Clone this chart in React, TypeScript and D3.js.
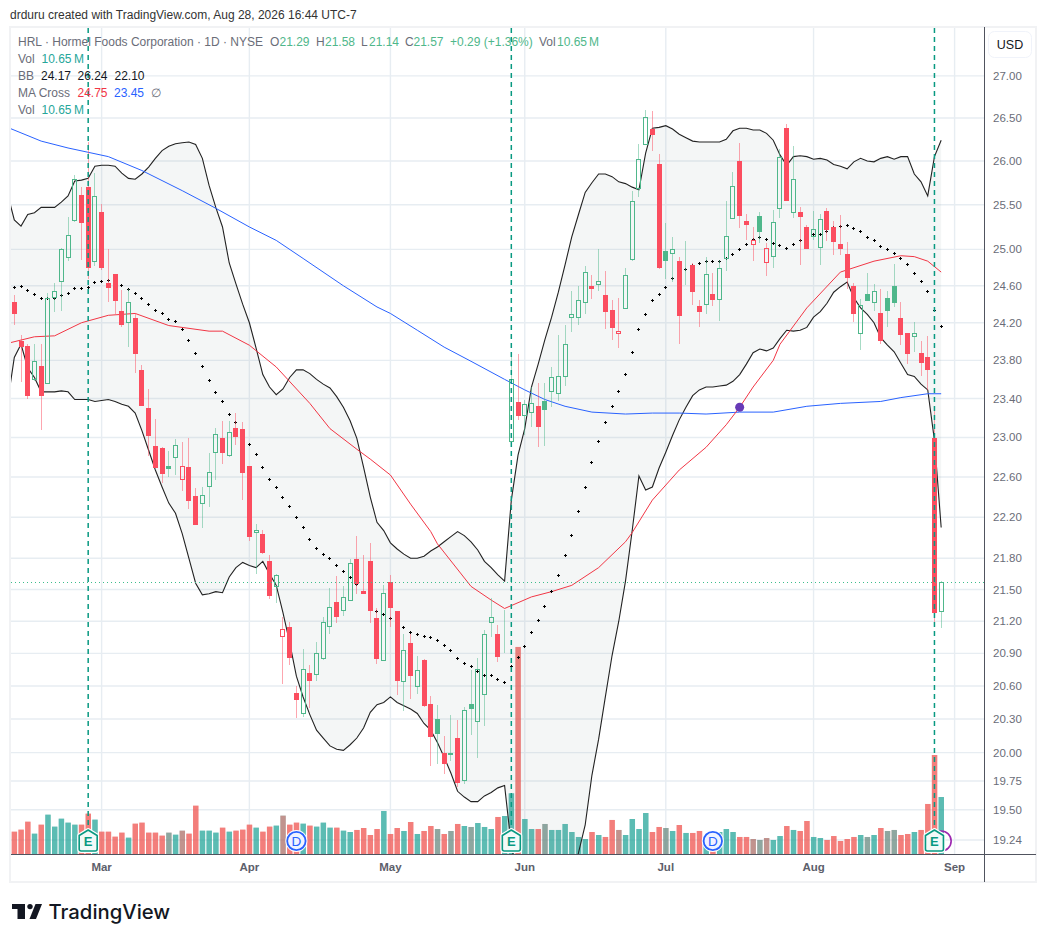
import React from 'react';
import * as d3 from 'd3';

// daily OHLCV, one row per ten sessions, session 0 is the first visible candle
const opens = [
  24.42, 24.01, 23.95, 23.59, 23.74, 23.55, 24.47, 24.64, 24.90, 25.32,
  25.61, 25.70, 24.86, 25.42, 24.63, 24.73, 24.33, 24.20, 24.25, 23.70,
  23.30, 22.91, 22.89, 22.71, 22.79, 22.57, 22.70, 22.41, 22.33, 22.50,
  22.84, 22.99, 22.81, 23.10, 23.09, 22.71, 22.05, 22.04, 21.77, 21.52,
  21.05, 21.15, 20.54, 20.35, 20.72, 20.70, 20.85, 21.15, 21.38, 21.30,
  21.39, 21.79, 21.49, 21.77, 21.23, 20.83, 21.57, 21.30, 20.64, 21.00,
  20.59, 20.84, 20.44, 20.30, 20.00, 20.00, 20.13, 19.75, 20.44, 20.27,
  20.52, 21.18, 21.08, 20.96, 22.95, 23.36, 23.22, 23.25, 23.32, 23.37,
  23.47, 23.45, 23.63, 24.25, 24.25, 24.41, 24.60, 24.61, 24.50, 24.34,
  24.08, 24.35, 24.88, 25.68, 26.19, 26.37, 25.97, 24.98, 24.95, 24.87,
  24.70, 24.83, 24.38, 24.39, 24.51, 24.44, 24.89, 25.34, 26.00, 25.32,
  25.05, 25.37, 24.85, 24.92, 25.45, 26.38, 25.41, 25.42, 25.25, 25.14,
  25.02, 25.43, 25.25, 25.06, 24.95, 24.60, 24.08, 24.51, 24.41, 24.31,
  24.47, 24.60, 24.25, 24.09, 24.05, 23.88, 23.84, 22.99, 21.29,
];
const highs = [
  24.50, 24.07, 23.97, 23.97, 23.97, 24.52, 24.63, 25.02, 25.36, 25.84,
  25.70, 26.22, 25.86, 25.51, 25.00, 24.73, 24.55, 24.57, 24.31, 23.75,
  23.50, 23.19, 22.90, 22.86, 22.98, 22.95, 22.99, 22.49, 22.50, 22.84,
  23.10, 23.17, 23.17, 23.25, 23.16, 22.71, 22.13, 22.08, 21.83, 21.65,
  21.24, 21.19, 20.60, 20.94, 20.79, 21.01, 21.24, 21.51, 21.63, 21.53,
  21.79, 22.02, 21.83, 21.95, 21.32, 21.54, 21.64, 21.30, 21.08, 21.08,
  20.88, 20.85, 20.51, 20.43, 20.15, 20.34, 20.29, 20.41, 20.75, 20.86,
  21.12, 21.42, 21.16, 21.31, 23.89, 23.87, 23.38, 23.52, 23.56, 23.56,
  23.73, 24.07, 24.18, 24.54, 24.60, 24.82, 24.72, 25.00, 24.76, 24.45,
  24.47, 24.79, 25.66, 26.20, 26.59, 26.58, 26.08, 25.29, 25.14, 24.92,
  25.09, 24.85, 24.44, 24.92, 24.74, 24.88, 25.54, 25.87, 26.21, 25.39,
  25.25, 25.42, 25.07, 25.44, 26.14, 26.43, 26.17, 25.47, 25.27, 25.43,
  25.39, 25.46, 25.32, 25.38, 25.08, 24.63, 24.46, 24.74, 24.62, 24.56,
  24.54, 24.84, 24.42, 24.09, 24.21, 24.00, 24.06, 23.30, 21.58,
];
const lows = [
  24.18, 23.57, 23.40, 23.58, 23.08, 23.55, 24.32, 24.33, 24.87, 25.31,
  24.88, 24.67, 24.82, 24.77, 24.42, 24.29, 24.15, 23.94, 23.67, 23.32,
  22.81, 22.69, 22.54, 22.60, 22.62, 22.46, 22.28, 22.12, 22.09, 22.30,
  22.57, 22.73, 22.80, 22.92, 22.37, 21.97, 21.65, 21.84, 21.41, 21.37,
  20.62, 20.79, 20.31, 20.32, 20.40, 20.65, 20.84, 21.08, 21.18, 21.25,
  21.39, 21.46, 21.46, 21.18, 20.80, 20.83, 21.15, 20.52, 20.37, 20.48,
  20.53, 20.41, 19.88, 19.90, 19.81, 19.93, 19.70, 19.72, 20.16, 19.95,
  20.24, 21.05, 20.82, 20.90, 22.95, 23.18, 23.02, 23.11, 22.90, 22.91,
  23.31, 23.37, 23.53, 24.10, 24.18, 24.29, 24.46, 24.54, 24.13, 24.02,
  23.93, 24.35, 24.87, 25.59, 26.19, 26.11, 24.78, 24.67, 24.64, 23.97,
  24.61, 24.39, 24.15, 24.29, 24.38, 24.22, 24.76, 25.34, 25.24, 25.11,
  24.87, 25.07, 24.71, 24.79, 25.35, 25.54, 25.35, 24.83, 25.00, 25.11,
  24.83, 25.09, 24.94, 24.94, 24.57, 24.21, 23.91, 24.43, 24.33, 23.97,
  24.15, 24.37, 23.96, 23.76, 23.89, 23.64, 23.49, 21.19, 21.14,
];
const closes = [
  24.29, 23.94, 23.43, 23.79, 23.43, 24.47, 24.54, 25.00, 25.16, 25.79,
  25.30, 24.80, 25.60, 24.80, 24.58, 24.43, 24.18, 24.42, 23.87, 23.32,
  23.01, 22.69, 22.63, 22.68, 22.92, 22.71, 22.36, 22.12, 22.42, 22.65,
  23.04, 22.84, 23.06, 23.00, 22.64, 22.01, 22.08, 21.85, 21.44, 21.64,
  21.13, 20.86, 20.47, 20.76, 20.65, 20.90, 21.19, 21.33, 21.24, 21.43,
  21.75, 21.55, 21.46, 21.30, 20.85, 21.47, 21.32, 20.65, 20.93, 20.69,
  20.75, 20.42, 20.14, 20.17, 19.90, 19.98, 19.73, 20.38, 20.39, 20.76,
  21.08, 21.24, 20.87, 20.96, 23.60, 23.22, 23.34, 23.35, 23.11, 23.28,
  23.62, 23.64, 23.97, 24.29, 24.44, 24.75, 24.56, 24.65, 24.32, 24.14,
  24.11, 24.72, 25.54, 26.02, 26.51, 26.30, 24.80, 24.87, 25.00, 24.27,
  24.70, 24.53, 24.32, 24.73, 24.45, 24.80, 25.15, 25.71, 25.37, 25.27,
  25.11, 25.19, 25.02, 25.31, 26.05, 25.54, 25.79, 25.36, 25.00, 25.23,
  25.34, 25.22, 25.08, 25.01, 24.68, 24.29, 24.39, 24.43, 24.54, 24.01,
  24.33, 24.41, 24.07, 23.87, 24.09, 23.77, 23.70, 21.28, 21.57,
];
// millions of shares
const volumes = [
  4.17, 4.55, 6.04, 3.80, 5.48, 7.35, 5.11, 6.60, 5.86, 5.48,
  5.48, 7.54, 6.42, 4.17, 4.17, 3.24, 3.99, 3.05, 5.67, 5.86,
  3.99, 3.99, 3.43, 3.99, 3.61, 4.36, 3.80, 9.03, 4.36, 4.36,
  3.99, 4.92, 4.17, 4.36, 4.55, 5.48, 4.92, 4.17, 5.11, 5.30,
  7.17, 5.48, 5.86, 5.67, 5.30, 5.11, 5.86, 4.92, 4.92, 4.36,
  4.11, 4.49, 4.86, 3.55, 4.67, 8.04, 3.74, 4.86, 4.30, 5.98,
  3.74, 4.30, 5.23, 4.67, 3.74, 4.30, 5.61, 5.23, 5.05, 5.79,
  5.05, 4.67, 6.92, 7.10, 11.34, 38.7, 6.54, 4.67, 4.67, 5.61,
  4.49, 4.49, 5.61, 4.11, 3.18, 2.80, 4.11, 3.55, 3.18, 6.36,
  4.49, 3.55, 6.54, 4.67, 7.66, 4.11, 5.05, 4.86, 4.30, 5.42,
  3.93, 3.93, 4.30, 2.80, 3.00, 4.11, 4.67, 4.11, 3.18, 3.18,
  2.80, 2.62, 2.99, 2.62, 3.36, 5.23, 4.49, 4.30, 6.17, 3.18,
  2.99, 2.62, 3.36, 2.43, 2.80, 3.18, 3.55, 3.18, 3.55, 4.86,
  4.30, 4.49, 3.55, 3.74, 4.11, 4.49, 9.35, 18.5, 10.65,
];

// Bollinger basis, drawn as crosses
const bbBasis = [
  24.59, 24.60, 24.55, 24.51, 24.47, 24.47, 24.47, 24.50, 24.52, 24.58,
  24.58, 24.59, 24.64, 24.65, 24.66, 24.65, 24.61, 24.56, 24.52, 24.47,
  24.40, 24.34, 24.30, 24.24, 24.22, 24.13, 24.02, 23.88, 23.74, 23.59,
  23.47, 23.37, 23.24, 23.16, 23.06, 22.93, 22.83, 22.70, 22.58, 22.50,
  22.40, 22.31, 22.20, 22.10, 21.99, 21.90, 21.84, 21.80, 21.74, 21.68,
  21.62, 21.55, 21.48, 21.40, 21.30, 21.27, 21.23, 21.18, 21.15, 21.10,
  21.08, 21.06, 21.05, 21.02, 20.98, 20.93, 20.86, 20.81, 20.78, 20.74,
  20.70, 20.70, 20.66, 20.64, 20.78, 20.87, 20.97, 21.10, 21.21, 21.34,
  21.49, 21.64, 21.83, 22.03, 22.26, 22.50, 22.75, 22.96, 23.16, 23.32,
  23.48, 23.66, 23.89, 24.13, 24.29, 24.44, 24.51, 24.59, 24.68, 24.72,
  24.78, 24.83, 24.85, 24.87, 24.87, 24.87, 24.90, 24.95, 25.01, 25.06,
  25.12, 25.14, 25.12, 25.07, 25.05, 25.02, 25.06, 25.10, 25.14, 25.17,
  25.17, 25.21, 25.25, 25.26, 25.27, 25.24, 25.21, 25.14, 25.10, 25.04,
  25.00, 24.96, 24.90, 24.84, 24.74, 24.65, 24.54, 24.34, 24.17,
];
// the bands start one session earlier because the line enters from the left edge
const bbUpper = [
  25.62,
  25.33, 25.26, 25.39, 25.41, 25.47, 25.47, 25.47, 25.53, 25.60, 25.77,
  25.78, 25.80, 25.94, 25.95, 25.95, 25.94, 25.86, 25.80, 25.79, 25.85,
  25.93, 26.03, 26.12, 26.17, 26.20, 26.21, 26.22, 26.19, 26.03, 25.72,
  25.47, 25.25, 24.85, 24.62, 24.40, 24.20, 23.93, 23.65, 23.52, 23.44,
  23.50, 23.62, 23.70, 23.70, 23.66, 23.60, 23.55, 23.51, 23.42, 23.31,
  23.17, 22.99, 22.70, 22.40, 22.15, 22.07, 21.95, 21.89, 21.84, 21.80,
  21.80, 21.82, 21.87, 21.91, 21.96, 22.01, 22.06, 22.02, 21.96, 21.88,
  21.77, 21.71, 21.64, 21.58, 22.37, 22.82, 23.09, 23.52, 23.76, 24.02,
  24.26, 24.53, 24.83, 25.14, 25.39, 25.64, 25.75, 25.85, 25.85, 25.82,
  25.76, 25.74, 25.70, 25.67, 26.09, 26.38, 26.39, 26.41, 26.37, 26.31,
  26.27, 26.23, 26.22, 26.22, 26.22, 26.22, 26.25, 26.35, 26.38, 26.38,
  26.36, 26.36, 26.32, 26.24, 26.07, 25.95, 26.05, 26.06, 26.05, 26.02,
  26.03, 26.01, 25.96, 25.94, 25.91, 25.99, 26.03, 26.00, 25.99, 26.03,
  26.05, 26.02, 26.05, 26.05, 25.85, 25.76, 25.60, 26.05, 26.24,
];
const bbLower = [
  23.36,
  23.83, 23.97, 23.72, 23.62, 23.47, 23.47, 23.47, 23.48, 23.47, 23.39,
  23.39, 23.39, 23.37, 23.38, 23.39, 23.37, 23.34, 23.32, 23.25, 23.07,
  22.87, 22.67, 22.50, 22.34, 22.24, 22.04, 21.80, 21.56, 21.45, 21.46,
  21.48, 21.47, 21.62, 21.71, 21.76, 21.73, 21.71, 21.77, 21.65, 21.54,
  21.28, 21.00, 20.69, 20.50, 20.34, 20.20, 20.13, 20.06, 20.03, 20.02,
  20.07, 20.13, 20.22, 20.36, 20.43, 20.45, 20.50, 20.45, 20.42, 20.39,
  20.35, 20.26, 20.20, 20.09, 19.96, 19.82, 19.66, 19.61, 19.57, 19.57,
  19.62, 19.65, 19.69, 19.71, 19.19, 18.92, 18.85, 18.68, 18.66, 18.66,
  18.72, 18.75, 18.83, 18.92, 19.13, 19.37, 19.80, 20.12, 20.50, 20.88,
  21.20, 21.58, 22.07, 22.61, 22.47, 22.50, 22.69, 22.85, 23.02, 23.18,
  23.31, 23.43, 23.49, 23.52, 23.52, 23.53, 23.54, 23.58, 23.65, 23.76,
  23.88, 23.92, 23.90, 23.93, 24.03, 24.12, 24.11, 24.12, 24.15, 24.26,
  24.32, 24.41, 24.53, 24.59, 24.64, 24.47, 24.36, 24.29, 24.20, 24.04,
  23.96, 23.89, 23.77, 23.65, 23.63, 23.55, 23.49, 22.97, 22.10,
];

// moving averages, read at their bends
const ma50Days = [-1, 3, 6, 10, 14, 18, 23, 29, 31, 35, 39, 44, 47, 51, 53, 56, 59, 62, 63, 68, 71, 73, 77, 80, 83, 87, 91, 92, 95, 99, 103, 106, 108, 110, 113, 114, 118, 123, 128, 132, 134, 136, 138];
const ma50Values = [23.98, 24.05, 24.06, 24.20, 24.28, 24.30, 24.17, 24.11, 24.11, 23.96, 23.73, 23.35, 23.09, 22.88, 22.78, 22.62, 22.33, 22.06, 21.94, 21.53, 21.40, 21.32, 21.43, 21.48, 21.54, 21.71, 21.96, 22.05, 22.37, 22.67, 22.90, 23.13, 23.31, 23.52, 23.80, 23.97, 24.36, 24.75, 24.87, 24.93, 24.92, 24.87, 24.75];
const ma200Days = [-1, 4, 8, 14, 19, 25, 30, 35, 39, 43, 49, 54, 56, 60, 64, 68, 73, 76, 79, 82, 86, 91, 95, 99, 103, 108, 113, 118, 123, 129, 132, 136, 138];
const ma200Values = [26.39, 26.23, 26.15, 26.05, 25.89, 25.66, 25.46, 25.25, 25.10, 24.90, 24.60, 24.37, 24.30, 24.12, 23.94, 23.79, 23.60, 23.49, 23.39, 23.32, 23.26, 23.24, 23.25, 23.25, 23.24, 23.26, 23.26, 23.32, 23.35, 23.37, 23.41, 23.45, 23.45];

const priceTicks = [27, 26.5, 26, 25.5, 25, 24.6, 24.2, 23.8, 23.4, 23, 22.6, 22.2, 21.8, 21.5, 21.2, 20.9, 20.6, 20.3, 20, 19.75, 19.5, 19.24];
const monthLabels = ['Mar', 'Apr', 'May', 'Jun', 'Jul', 'Aug', 'Sep'];
const monthDays = [13, 35, 56, 76, 97, 119, 140];
const earningsDays = [11, 74, 137];
const dividendDays = [42, 104];
const splitDay = 138;
const crossDay = 108;
const crossPrice = 23.31;
const lastClose = 21.57;

const WIDTH = 1046;
const HEIGHT = 942;
const PLOT_LEFT = 11;
const PLOT_RIGHT = 984;
const PLOT_TOP = 28;
const PLOT_BOTTOM = 854;

const RED = '#fb4d5f';
const GREEN = '#4fb78b';
const TEAL = '#089981';
const GRID = '#e7edf2';
const FONT = '"Liberation Sans", Arial, sans-serif';

const x = d3.scaleLinear().domain([0, 140]).range([14.3, 954.6]);
const y = d3.scaleLog().domain([19.24, 26.5]).range([840, 118]);
const yVol = d3.scaleLinear().domain([0, 40]).range([PLOT_BOTTOM, PLOT_BOTTOM - 214]);

const days = closes.map((_, i) => i);
const bandDays = bbUpper.map((_, i) => i - 1);

const bandArea = d3
  .area<number>()
  .x((d) => x(d))
  .y0((_, i) => y(bbLower[i]))
  .y1((_, i) => y(bbUpper[i]));
const upperLine = d3
  .line<number>()
  .x((d) => x(d))
  .y((_, i) => y(bbUpper[i]));
const lowerLine = d3
  .line<number>()
  .x((d) => x(d))
  .y((_, i) => y(bbLower[i]));
const maLine = (values: number[]) =>
  d3
    .line<number>()
    .x((d) => x(d))
    .y((_, i) => y(values[i]));
const crossPath = d3.symbol().type(d3.symbolCross).size(5)();

const EarningsFlag = ({ cx }: { cx: number }) => {
  const house = `M${cx},830 L${cx + 9},835.5 L${cx + 9},849 Q${cx + 9},851 ${cx + 7},851 L${cx - 7},851 Q${cx - 9},851 ${cx - 9},849 L${cx - 9},835.5 Z`;
  return (
    <g>
      <path d={house} fill="#fff" stroke="#fff" strokeWidth={4} strokeLinejoin="round" />
      <path d={house} fill="#f2faf8" stroke={TEAL} strokeWidth={1.6} strokeLinejoin="round" />
      <text x={cx} y={846} textAnchor="middle" fontSize={13} fontWeight={700} fill={TEAL} fontFamily={FONT}>
        E
      </text>
    </g>
  );
};

const DividendFlag = ({ cx }: { cx: number }) => (
  <g>
    <circle cx={cx} cy={841} r={11} fill="#fff" />
    <circle cx={cx} cy={841} r={9.2} fill="#f0f3ff" stroke="#2962ff" strokeWidth={1.8} />
    <text x={cx} y={846} textAnchor="middle" fontSize={13.5} fill="#2962ff" fontFamily={FONT}>
      D
    </text>
  </g>
);

const Candle = ({ i }: { i: number }) => {
  const open = opens[i];
  const close = closes[i];
  const prev = i > 0 ? closes[i - 1] : open;
  const hollow = close >= open;
  const color = close >= prev ? GREEN : RED;
  const cx = Math.floor(x(i));
  const top = Math.round(y(Math.max(open, close)));
  const bottom = Math.round(y(Math.min(open, close)));
  const high = Math.round(y(highs[i]));
  const low = Math.round(y(lows[i]));
  return (
    <g>
      <rect x={cx} y={high} width={1} height={Math.max(top - high, 0)} fill={color} opacity={0.5} />
      <rect x={cx} y={bottom} width={1} height={Math.max(low - bottom, 0)} fill={color} opacity={0.5} />
      {hollow ? (
        <rect x={cx - 1.5} y={top + 0.5} width={4} height={Math.max(bottom - top - 1, 0)} fill="none" stroke={color} strokeWidth={1} />
      ) : (
        <rect x={cx - 2} y={top} width={5} height={Math.max(bottom - top, 1)} fill={color} />
      )}
    </g>
  );
};

export default function App() {
  return (
    <svg
      width={WIDTH}
      height={HEIGHT}
      viewBox={`0 0 ${WIDTH} ${HEIGHT}`}
      style={{ position: 'absolute', left: 0, top: 0, background: '#fff' }}
      fontFamily={FONT}
    >
      <defs>
        <clipPath id="plot">
          <rect x={PLOT_LEFT} y={PLOT_TOP} width={PLOT_RIGHT - PLOT_LEFT} height={PLOT_BOTTOM - PLOT_TOP} />
        </clipPath>
      </defs>

      <text x={10} y={19} fontSize={12} fill="#333">
        drduru created with TradingView.com, Aug 28, 2026 16:44 UTC-7
      </text>

      {/* frame */}
      <rect x={10} y={27} width={1026} height={855} fill="none" stroke="#f1f2f4" strokeWidth={2} />

      {/* grid */}
      <g stroke={GRID} strokeWidth={1.4}>
        {priceTicks.map((t) => (
          <line key={t} x1={PLOT_LEFT} x2={PLOT_RIGHT} y1={y(t)} y2={y(t)} />
        ))}
        {monthDays.map((d) => (
          <line key={d} x1={x(d)} x2={x(d)} y1={PLOT_TOP} y2={PLOT_BOTTOM} />
        ))}
      </g>

      <g clipPath="url(#plot)">
        {/* the volume study is on the chart twice: open based colours under, close based over */}
        {days.map((i) => (
          <rect
            key={`va${i}`}
            x={x(i) - 2.6}
            y={yVol(volumes[i])}
            width={5.4}
            height={yVol(0) - yVol(volumes[i])}
            fill={closes[i] >= opens[i] ? '#26a69a' : '#ef5350'}
            opacity={0.5}
          />
        ))}
        {days.map((i) => (
          <rect
            key={`vb${i}`}
            x={x(i) - 2.6}
            y={yVol(volumes[i])}
            width={5.4}
            height={yVol(0) - yVol(volumes[i])}
            fill={closes[i] >= (i > 0 ? closes[i - 1] : opens[i]) ? '#26a69a' : '#ef5350'}
            opacity={0.5}
          />
        ))}

        <path d={bandArea(bandDays) ?? ''} fill="#7f9292" opacity={0.085} />
        <path d={upperLine(bandDays) ?? ''} fill="none" stroke="#222" strokeWidth={1.1} />
        <path d={lowerLine(bandDays) ?? ''} fill="none" stroke="#222" strokeWidth={1.1} />

        <path d={maLine(ma200Values)(ma200Days) ?? ''} fill="none" stroke="#2962ff" strokeWidth={1} />
        <path d={maLine(ma50Values)(ma50Days) ?? ''} fill="none" stroke="#f23645" strokeWidth={1} />

        {days.map((i) => (
          <path
            key={`b${i}`}
            d={crossPath ?? ''}
            transform={`translate(${Math.floor(x(i)) + 0.5},${Math.round(y(bbBasis[i])) + 0.5})`}
            fill="#000"
          />
        ))}

        {days.map((i) => (
          <Candle key={i} i={i} />
        ))}

        <line
          x1={PLOT_LEFT}
          x2={PLOT_RIGHT}
          y1={Math.round(y(lastClose)) + 0.5}
          y2={Math.round(y(lastClose)) + 0.5}
          stroke="#3dbd8b"
          strokeWidth={1}
          strokeDasharray="1 3"
        />

        <circle cx={x(crossDay)} cy={y(crossPrice)} r={4.5} fill="#673ab7" />

        {earningsDays.map((d) => (
          <line key={d} x1={x(d)} x2={x(d)} y1={PLOT_TOP} y2={832} stroke={TEAL} strokeWidth={1.5} strokeDasharray="5 4" />
        ))}

        <circle cx={x(splitDay)} cy={841} r={10} fill="none" stroke="#9c27b0" strokeWidth={1.6} />
        {earningsDays.map((d) => (
          <EarningsFlag key={d} cx={x(d)} />
        ))}
        {dividendDays.map((d) => (
          <DividendFlag key={d} cx={x(d)} />
        ))}
      </g>

      {/* axes */}
      <line x1={984.5} x2={984.5} y1={27} y2={882} stroke="#50535e" strokeWidth={1} />
      <line x1={PLOT_LEFT} x2={1036} y1={854.5} y2={854.5} stroke="#50535e" strokeWidth={1} />

      <g fontSize={11.5} fill="#6a6d78">
        {priceTicks.map((t) => (
          <text key={t} x={993} y={y(t) + 4}>
            {d3.format('.2f')(t)}
          </text>
        ))}
      </g>
      <g fontSize={11.5} fontWeight={700} fill="#5d606b" textAnchor="middle">
        {monthLabels.map((m, i) => (
          <text key={m} x={x(monthDays[i])} y={871}>
            {m}
          </text>
        ))}
      </g>

      <rect x={988.5} y={31.5} width={43} height={26} rx={6} fill="#fff" stroke="#f0f3fa" strokeWidth={1} />
      <text x={1010} y={49} fontSize={12.5} textAnchor="middle" fill="#131722">
        USD
      </text>

      {/* legend */}
      <g fontSize={12} fill="#6a6d78">
        <text x={18} y={46}>HRL · Hormel Foods Corporation · 1D · NYSE</text>
        <text x={270} y={46}>O</text>
        <text x={279.5} y={46} fill={GREEN}>21.29</text>
        <text x={316} y={46}>H</text>
        <text x={325} y={46} fill={GREEN}>21.58</text>
        <text x={361} y={46}>L</text>
        <text x={369} y={46} fill={GREEN}>21.14</text>
        <text x={405} y={46}>C</text>
        <text x={413.5} y={46} fill={GREEN}>21.57</text>
        <text x={450} y={46} fill={GREEN}>+0.29 (+1.36%)</text>
        <text x={539} y={46}>Vol</text>
        <text x={557} y={46} fill={GREEN}>10.65</text>
        <text x={589} y={46} fill={GREEN}>M</text>

        <text x={18} y={63}>Vol</text>
        <text x={41.5} y={63} fill="#26a69a">10.65</text>
        <text x={74} y={63} fill="#26a69a">M</text>

        <text x={18} y={80}>BB</text>
        <text x={41} y={80} fill="#131722">24.17</text>
        <text x={77.5} y={80} fill="#131722">26.24</text>
        <text x={114.5} y={80} fill="#131722">22.10</text>

        <text x={18} y={97}>MA Cross</text>
        <text x={77.5} y={97} fill="#f23645">24.75</text>
        <text x={114} y={97} fill="#2962ff">23.45</text>
        <text x={151} y={97}>∅</text>

        <text x={18} y={114}>Vol</text>
        <text x={41.5} y={114} fill="#26a69a">10.65</text>
        <text x={74} y={114} fill="#26a69a">M</text>
      </g>

      {/* logo */}
      <g fill="#131722">
        <path d="M12,904 H25 V919 H17.5 V909 H12 Z" />
        <circle cx={30} cy={906.6} r={2.7} />
        <path d="M35.5,904 H42 L36,919 H29.5 Z" />
      </g>
      <text x={48.5} y={919} fontSize={20.3} fontWeight={500} fontFamily="Inter, Roboto, sans-serif" fill="#131722">
        TradingView
      </text>
    </svg>
  );
}
